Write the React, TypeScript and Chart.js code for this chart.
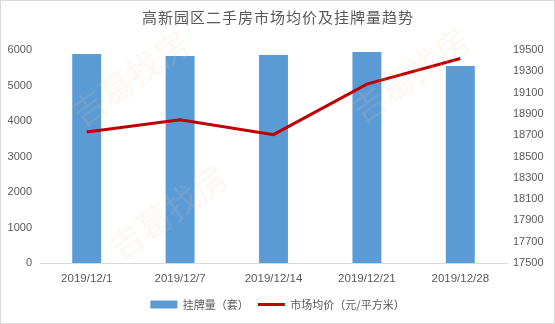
import React, { useEffect, useRef } from "react";
import { Chart, registerables } from "chart.js";

Chart.register(...registerables);

const titleText = "高新园区二手房市场均价及挂牌量趋势";
const categories = ["2019/12/1", "2019/12/7", "2019/12/14", "2019/12/21", "2019/12/28"];
const listingCount = [5890, 5830, 5860, 5945, 5550];
const avgPrice = [18730, 18845, 18705, 19180, 19420];
const barLabel = "挂牌量（套）";
const lineLabel = "市场均价（元/平方米）";
const watermarkText = "吉葛找房";

const GRAY = "#595959";

const decorPlugin = {
  id: "decor",
  afterDraw(chart: any) {
    const ctx = chart.ctx;
    ctx.save();
    // watermarks
    ctx.fillStyle = "rgba(250, 190, 150, 0.14)";
    ctx.font = '34px "Noto Sans CJK SC"';
    ctx.textAlign = "center";
    ctx.textBaseline = "middle";
    const spots = [
      [130, 78],
      [168, 212],
      [410, 75],
    ];
    for (const [x, y] of spots) {
      ctx.save();
      ctx.translate(x, y);
      ctx.rotate(-0.62);
      ctx.fillText(watermarkText, 0, 0);
      ctx.restore();
    }
    // title
    ctx.fillStyle = GRAY;
    ctx.font = '15px "Noto Sans CJK SC"';
    (ctx as any).letterSpacing = "1px";
    ctx.textAlign = "center";
    ctx.textBaseline = "middle";
    ctx.fillText(titleText, chart.width / 2 + 0.5, 17);
    (ctx as any).letterSpacing = "0px";
    // border
    ctx.strokeStyle = "#d9d9d9";
    ctx.lineWidth = 1;
    ctx.strokeRect(0.5, 0.5, chart.width - 1, chart.height - 1);
    ctx.restore();
  },
};

const plain = (v: any) => String(v);

export default function App() {
  const ref = useRef<HTMLCanvasElement | null>(null);
  useEffect(() => {
    document.body.style.margin = "0";
    const chart = new Chart(ref.current as HTMLCanvasElement, {
      type: "bar",
      data: {
        labels: categories,
        datasets: [
          {
            type: "bar",
            label: barLabel,
            data: listingCount,
            backgroundColor: "#5B9BD5",
            borderWidth: 0,
            yAxisID: "y",
            order: 1,
            categoryPercentage: 1,
            barPercentage: 0.31,
            pointStyle: "rect",
          } as any,
          {
            type: "line",
            label: lineLabel,
            data: avgPrice,
            borderColor: "#C00000",
            backgroundColor: "#C00000",
            borderWidth: 3,
            pointRadius: 0,
            tension: 0,
            yAxisID: "y1",
            order: 0,
            pointStyle: "line",
          } as any,
        ],
      },
      options: {
        animation: false,
        responsive: false,
        layout: { padding: { top: 50, bottom: 4, left: 0, right: 0 } },
        plugins: {
          title: { display: false },
          tooltip: { enabled: false },
          legend: {
            position: "bottom",
            labels: {
              usePointStyle: true,
              pointStyleWidth: 27,
              boxHeight: 8,
              padding: 9,
              color: GRAY,
              font: { size: 11, family: '"Noto Sans CJK SC"' },
              sort: (a: any, b: any) => a.datasetIndex - b.datasetIndex,
            },
          },
        },
        scales: {
          x: {
            grid: { display: false, drawTicks: false },
            border: { display: true, color: "#d9d9d9" },
            ticks: {
              color: GRAY,
              padding: 9,
              font: { size: 11.5, family: '"Liberation Sans", Arial' },
              maxRotation: 0,
              autoSkip: false,
            },
            afterFit: (s: any) => {
              s.height = 27;
            },
          },
          y: {
            position: "left",
            min: 0,
            max: 6000,
            grid: { display: false, drawTicks: false },
            border: { display: false },
            ticks: {
              stepSize: 1000,
              color: GRAY,
              padding: 8,
              callback: plain,
              font: { size: 11, family: '"Liberation Sans", Arial' },
            },
            afterFit: (s: any) => {
              s.width = 40;
            },
          },
          y1: {
            position: "right",
            min: 17500,
            max: 19500,
            grid: { display: false, drawTicks: false },
            border: { display: false },
            ticks: {
              stepSize: 200,
              color: GRAY,
              padding: 6,
              callback: plain,
              font: { size: 11, family: '"Liberation Sans", Arial' },
            },
            afterFit: (s: any) => {
              s.width = 48;
            },
          },
        },
      } as any,
      plugins: [decorPlugin],
    });
    return () => chart.destroy();
  }, []);
  return (
    <div style={{ width: 555, height: 324, background: "#fff" }}>
      <canvas ref={ref} width={555} height={324} style={{ display: "block" }} />
    </div>
  );
}
